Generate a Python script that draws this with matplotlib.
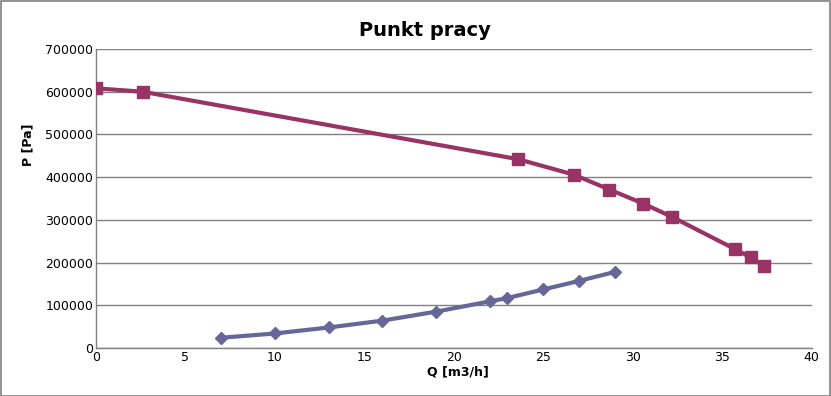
import matplotlib
matplotlib.use("Agg")
import matplotlib.pyplot as plt
from matplotlib.patches import Rectangle

# Data
q_fan = [0, 2.6, 23.6, 26.7, 28.7, 30.6, 32.2, 35.7, 36.6, 37.35]
p_fan = [608000, 600000, 442000, 406000, 371000, 338000, 307000, 232000, 212000, 191000]
q_sys = [7, 10, 13, 16, 19, 22, 23, 25, 27, 29]
p_sys = [24000, 34000, 48000, 64000, 85000, 109000, 117000, 137000, 157000, 178000]

title = "Punkt pracy"
xlabel = "Q [m3/h]"
ylabel = "P [Pa]"

fig = plt.figure(figsize=(8.31, 3.96), dpi=100)
ax = fig.add_axes([96/831, 48/396, (811.5-96)/831, (348-49)/396])

ax.plot(q_fan, p_fan, color="#993366", lw=3, marker="s", ms=8, zorder=3)
ax.plot(q_sys, p_sys, color="#666699", lw=3, marker="D", ms=6, zorder=3)

ax.set_xlim(0, 40)
ax.set_ylim(0, 700000)
ax.set_xticks(range(0, 41, 5))
ax.set_yticks(range(0, 700001, 100000))
ax.yaxis.grid(True, color="#808080", lw=1)
ax.set_axisbelow(True)
for s in ["top", "right"]:
    ax.spines[s].set_visible(False)
for s in ["left", "bottom"]:
    ax.spines[s].set_color("#808080")
    ax.spines[s].set_linewidth(1)
ax.tick_params(length=0, labelsize=9, pad=2)
fig.text(425/831, 1 - 30/396, title, fontsize=14, fontweight="bold", ha="center", va="center")
ax.set_xlabel(xlabel, fontsize=9, fontweight="bold")
ax.xaxis.set_label_coords((458-96)/715.5, -(372-348)/299)
ax.xaxis.label.set_va("center")
ax.set_ylabel(ylabel, fontsize=9, fontweight="bold")
ax.yaxis.set_label_coords((28-96)/715.5, (348-145)/299)
ax.yaxis.label.set_va("center")

fig.patches.append(Rectangle((0.5/831, 0.5/396), 829.5/831, 395/396, transform=fig.transFigure,
                             fill=False, edgecolor="#808080", lw=1.2))

fig.savefig("out.png", dpi=100)
